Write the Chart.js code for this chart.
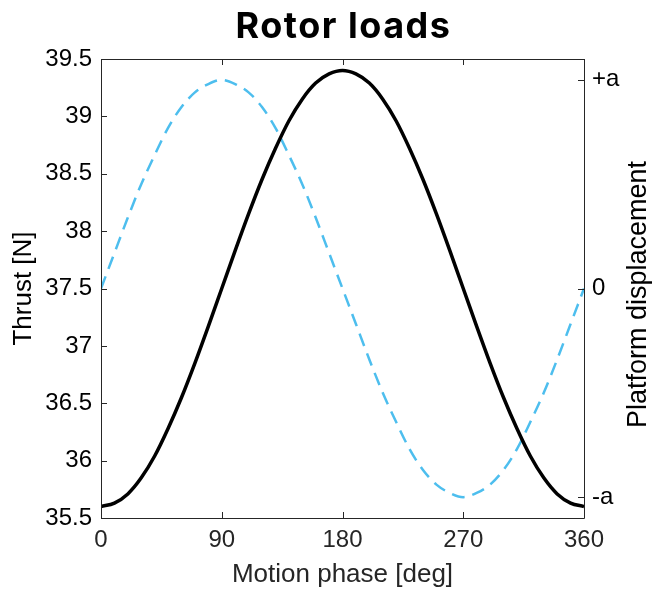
<!DOCTYPE html>
<html>
<head>
<meta charset="utf-8">
<script src="https://cdn.jsdelivr.net/npm/chart.js@4.4.0/dist/chart.umd.min.js"></script>
<style>
  html, body { margin: 0; padding: 0; background: #fff; }
  #wrap { width: 652px; height: 590px; }
</style>
</head>
<body>
<div id="wrap"><canvas id="rotor--canva" width="652" height="590"></canvas></div>
<script>
// Datos
const phase = [0, 10, 20, 30, 40, 50, 60, 70, 80, 90, 100, 110, 120, 130, 140, 150, 160, 170, 180,
  190, 200, 210, 220, 230, 240, 250, 260, 270, 280, 290, 300, 310, 320, 330, 340, 350, 360];
const thrust = [35.60, 35.63, 35.71, 35.85, 36.04, 36.28, 36.55, 36.85, 37.17, 37.50, 37.83, 38.15,
  38.45, 38.72, 38.96, 39.15, 39.29, 39.37, 39.40, 39.37, 39.29, 39.15, 38.96, 38.72, 38.45, 38.15,
  37.83, 37.50, 37.17, 36.85, 36.55, 36.28, 36.04, 35.85, 35.71, 35.63, 35.60];
// desplazamiento en unidades de "a"
const displacement = [0, 0.17, 0.34, 0.50, 0.64, 0.77, 0.87, 0.94, 0.98, 1.00, 0.98, 0.94, 0.87,
  0.77, 0.64, 0.50, 0.34, 0.17, 0, -0.17, -0.34, -0.50, -0.64, -0.77, -0.87, -0.94, -0.98, -1.00,
  -0.98, -0.94, -0.87, -0.77, -0.64, -0.50, -0.34, -0.17, 0];

const xTicks = [0, 90, 180, 270, 360];
const thrustTicks = [35.5, 36, 36.5, 37, 37.5, 38, 38.5, 39, 39.5];
const dispTicks = [-1, 0, 1];
const dispTickLabels = ["-a", "0", "+a"];

const FONT = "'Liberation Sans', Arial, sans-serif";
const AXIS_COLOR = "#262626";

// Marco, marcas hacia dentro (estilo MATLAB), titulo y etiqueta derecha
const framePlugin = {
  id: "frame",
  afterDraw(chart) {
    const { ctx, chartArea: a, scales } = chart;
    const len = 6;
    ctx.save();
    ctx.strokeStyle = AXIS_COLOR;
    ctx.lineWidth = 1;
    ctx.beginPath();
    ctx.rect(a.left + 0.5, a.top + 0.5, a.right - a.left, a.bottom - a.top);
    xTicks.forEach((v) => {
      const px = Math.round(scales.x.getPixelForValue(v)) + 0.5;
      ctx.moveTo(px, a.bottom);
      ctx.lineTo(px, a.bottom - len);
      ctx.moveTo(px, a.top);
      ctx.lineTo(px, a.top + len);
    });
    thrustTicks.forEach((v) => {
      const py = Math.round(scales.y.getPixelForValue(v)) + 0.5;
      ctx.moveTo(a.left, py);
      ctx.lineTo(a.left + len, py);
    });
    dispTicks.forEach((v) => {
      const py = Math.round(scales.y2.getPixelForValue(v)) + 0.5;
      ctx.moveTo(a.right, py);
      ctx.lineTo(a.right - len, py);
    });
    ctx.stroke();

    // Titulo centrado sobre el area del grafico
    ctx.fillStyle = "#000";
    ctx.font = "700 36px Inter, sans-serif";
    ctx.letterSpacing = "1.5px";
    ctx.textAlign = "center";
    ctx.textBaseline = "alphabetic";
    ctx.fillText("Rotor loads", (a.left + a.right) / 2 + 1, 38);
    ctx.letterSpacing = "0px";

    // Etiqueta del eje derecho, leida de abajo hacia arriba
    ctx.font = "27px " + FONT;
    ctx.translate(639, (a.top + a.bottom) / 2 + 6);
    ctx.rotate(-Math.PI / 2);
    ctx.textBaseline = "middle";
    ctx.fillText("Platform displacement", 0, 0);
    ctx.restore();
  },
};

const ctx = document.querySelector("#rotor--canva").getContext("2d");
new Chart(ctx, {
  type: "line",
  data: {
    datasets: [
      {
        label: "Thrust",
        data: phase.map((x, i) => ({ x, y: thrust[i] })),
        yAxisID: "y",
        borderColor: "#000000",
        borderWidth: 3.5,
        pointRadius: 0,
        fill: false,
        cubicInterpolationMode: "monotone",
      },
      {
        label: "Platform displacement",
        data: phase.map((x, i) => ({ x, y: displacement[i] })),
        yAxisID: "y2",
        borderColor: "#4DBEEE",
        borderWidth: 2.5,
        borderDash: [13, 8],
        pointRadius: 0,
        fill: false,
        cubicInterpolationMode: "monotone",
      },
    ],
  },
  options: {
    responsive: false,
    animation: false,
    layout: { padding: { top: 59, left: 0, right: 0, bottom: 0 } },
    plugins: {
      legend: { display: false },
      title: { display: false },
      tooltip: { enabled: false },
    },
    scales: {
      x: {
        type: "linear",
        min: 0,
        max: 360,
        afterBuildTicks: (s) => { s.ticks = xTicks.map((v) => ({ value: v })); },
        afterFit: (s) => { s.height = 72; },
        grid: { display: false, drawTicks: false },
        border: { display: false },
        ticks: { color: AXIS_COLOR, font: { family: FONT, size: 24 }, padding: 8, maxRotation: 0 },
        title: {
          display: true,
          text: "Motion phase [deg]",
          color: AXIS_COLOR,
          font: { family: FONT, size: 26 },
          padding: { top: 0, bottom: 0 },
        },
      },
      y: {
        position: "left",
        min: 35.5,
        max: 39.5,
        afterBuildTicks: (s) => { s.ticks = thrustTicks.map((v) => ({ value: v })); },
        afterFit: (s) => { s.width = 101; },
        grid: { display: false, drawTicks: false },
        border: { display: false },
        ticks: { color: "#000", font: { family: FONT, size: 24 }, padding: 9, callback: (v) => String(v) },
        title: {
          display: true,
          text: "Thrust [N]",
          color: "#000",
          font: { family: FONT, size: 26 },
          padding: { top: 8, bottom: 0 },
        },
      },
      y2: {
        position: "right",
        min: -1.1,
        max: 1.1,
        afterBuildTicks: (s) => { s.ticks = dispTicks.map((v) => ({ value: v })); },
        afterFit: (s) => { s.width = 68; },
        grid: { display: false, drawTicks: false },
        border: { display: false },
        ticks: {
          color: "#000",
          font: { family: FONT, size: 24 },
          padding: 8,
          callback: (v) => dispTickLabels[dispTicks.indexOf(v)],
        },
      },
    },
  },
  plugins: [framePlugin],
});
</script>
</body>
</html>
